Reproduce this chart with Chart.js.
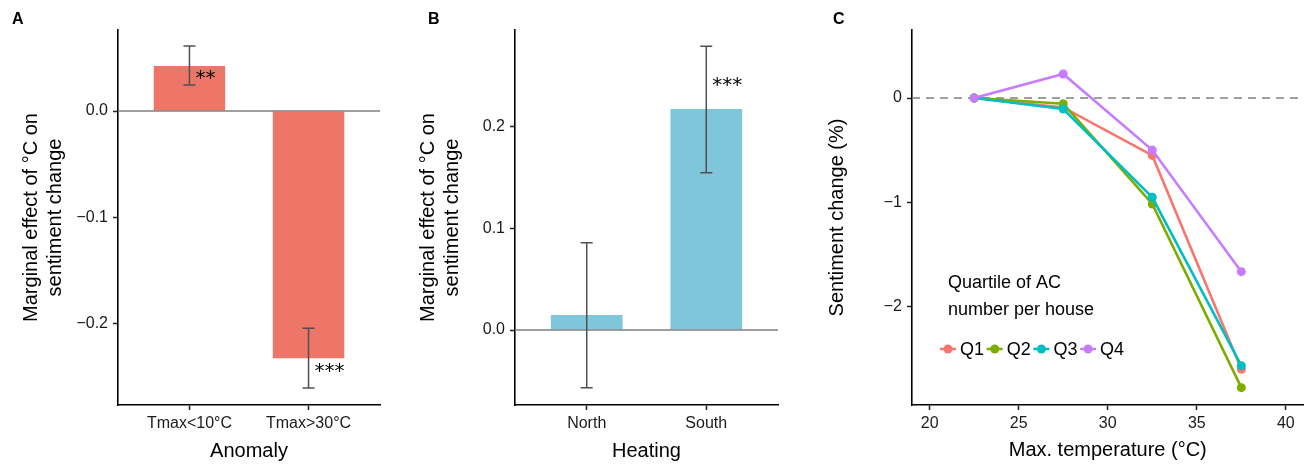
<!DOCTYPE html>
<html><head><meta charset="utf-8">
<script src="https://cdn.jsdelivr.net/npm/chart.js@4.4.1/dist/chart.umd.min.js"></script>
<style>
html,body{margin:0;padding:0;background:#fff;}
#wrap{position:relative;width:1308px;height:464px;overflow:hidden;background:#fff;}
canvas{position:absolute;top:0;}
.lab{position:absolute;font:bold 16px "Liberation Sans",Arial,sans-serif;line-height:16px;color:#000;}
</style></head><body>
<div id="wrap">
<canvas id="ca" width="400" height="464" style="left:0px"></canvas>
<canvas id="cb" width="400" height="464" style="left:400px"></canvas>
<canvas id="cc" width="508" height="464" style="left:800px"></canvas>
<div class="lab" style="left:12px;top:11px">A</div>
<div class="lab" style="left:428px;top:11px">B</div>
<div class="lab" style="left:833px;top:11px">C</div>
</div>
<script>
// ---------- DATA ----------
const catsA = ["Tmax<10°C", "Tmax>30°C"];
const valsA = [0.0425, -0.233];
const loA = [0.0245, -0.261];
const hiA = [0.0613, -0.2047];
const starsA = ["**", "***"];
const starYA = [0.036, -0.2406];
const ticksA = [-0.2, -0.1, 0.0];

const catsB = ["North", "South"];
const valsB = [0.0147, 0.2173];
const loB = [-0.0567, 0.1547];
const hiB = [0.0859, 0.279];
const starsB = ["", "***"];
const starYB = [null, 0.2458];
const ticksB = [0.0, 0.1, 0.2];

const tempsC = [22.5, 27.5, 32.5, 37.5];
const q1 = [0, -0.09, -0.55, -2.60];
const q2 = [0, -0.055, -1.016, -2.777];
const q3 = [0, -0.105, -0.952, -2.566];
const q4 = [0, 0.23, -0.499, -1.665];
const seriesNames = ["Q1", "Q2", "Q3", "Q4"];
const xTicksC = [20, 25, 30, 35, 40];
const yTicksC = [-2, -1, 0];

// ---------- STYLE ----------
const FONT = '"Liberation Sans", Arial, sans-serif';
const colorsC = ["#F8766D", "#7CAE00", "#00BFC4", "#C77CFF"];
const fmt = d => v => (Math.abs(v) < 1e-9 ? (0).toFixed(d) : v.toFixed(d)).replace('-', '\u2212');

const annot = {
  id: 'annot',
  beforeDatasetsDraw(chart, args, o) {
    if (!o.zero || !o.zero.behind) return;
    drawZero(chart, o.zero);
  },
  afterDatasetsDraw(chart, args, o) {
    const ctx = chart.ctx, xs = chart.scales.x, ys = chart.scales.y;
    if (o.zero && !o.zero.behind) drawZero(chart, o.zero);
    ctx.save();
    if (o.lo) {
      ctx.strokeStyle = '#505050'; ctx.lineWidth = 1.5;
      o.lo.forEach((lo, i) => {
        const px = xs.getPixelForValue(i + 1);
        const y1 = ys.getPixelForValue(lo), y2 = ys.getPixelForValue(o.hi[i]);
        ctx.beginPath();
        ctx.moveTo(px, y1); ctx.lineTo(px, y2);
        ctx.moveTo(px - 6, y1); ctx.lineTo(px + 6, y1);
        ctx.moveTo(px - 6, y2); ctx.lineTo(px + 6, y2);
        ctx.stroke();
      });
    }
    if (o.stars) {
      ctx.fillStyle = '#000'; ctx.font = '20px "DejaVu Sans", sans-serif';
      ctx.textAlign = 'left'; ctx.textBaseline = 'alphabetic';
      o.stars.forEach((s, i) => {
        if (!s) return;
        const px = xs.getPixelForValue(i + 1) + 6;
        const py = ys.getPixelForValue(o.starY[i]) + 11;
        ctx.fillText(s, px, py);
      });
    }
    ctx.restore();
  }
};
function drawZero(chart, z) {
  const ctx = chart.ctx, a = chart.chartArea, ys = chart.scales.y;
  const py = ys.getPixelForValue(0);
  ctx.save();
  ctx.strokeStyle = z.color; ctx.lineWidth = z.width;
  ctx.setLineDash(z.dash || []);
  ctx.beginPath(); ctx.moveTo(a.left, py); ctx.lineTo(a.right, py); ctx.stroke();
  ctx.restore();
}

const legendC = {
  id: 'legendC',
  afterDraw(chart, args, o) {
    const ctx = chart.ctx;
    ctx.save();
    ctx.font = '18px ' + FONT; ctx.fillStyle = '#000';
    ctx.textBaseline = 'middle'; ctx.textAlign = 'left';
    o.title.forEach((t, i) => ctx.fillText(t, o.x, o.y + i * o.lh));
    chart.data.datasets.forEach((ds, i) => {
      const cx = o.itemX + i * o.step;
      ctx.strokeStyle = ds.borderColor; ctx.lineWidth = 2.5;
      ctx.beginPath(); ctx.moveTo(cx, o.itemY); ctx.lineTo(cx + 16, o.itemY); ctx.stroke();
      ctx.fillStyle = ds.borderColor;
      ctx.beginPath(); ctx.arc(cx + 8, o.itemY, 4.5, 0, Math.PI * 2); ctx.fill();
      ctx.fillStyle = '#000';
      ctx.fillText(ds.label, cx + 20, o.itemY + 1);
    });
    ctx.restore();
  }
};

function axisCommon(extra) {
  return Object.assign({
    grid: { display: true, offset: false, drawOnChartArea: false, drawTicks: true, tickLength: 5, tickColor: '#222', tickWidth: 1.5 },
    border: { display: true, color: '#000', width: 1.6 },
  }, extra);
}

function barChart(id, cats, vals, lo, hi, stars, starY, ticks, ymin, ymax, color, xTitle, plotLeft, plotRight, canvasW, titlePad) {
  new Chart(document.getElementById(id), {
    type: 'bar',
    data: {
      datasets: [{
        data: cats.map((c, i) => ({ x: i + 1, y: vals[i] })),
        backgroundColor: color, borderWidth: 0,
        categoryPercentage: 1, barPercentage: 0.6
      }]
    },
    options: {
      responsive: false, animation: false, devicePixelRatio: 1,
      layout: { padding: { left: 0, right: canvasW - plotRight, top: 30, bottom: 0 } },
      plugins: {
        legend: { display: false }, tooltip: { enabled: false },
        annot: { zero: { color: '#7f7f7f', width: 1.6 }, lo, hi, stars, starY }
      },
      scales: {
        x: axisCommon({
          type: 'linear', min: 0.4, max: 2.6, offset: false,
          afterBuildTicks: s => { s.ticks = cats.map((c, i) => ({ value: i + 1 })); },
          afterFit: s => { s.height = 59; },
          ticks: { callback: (v, i) => cats[i], font: { size: 16, family: FONT }, color: '#1a1a1a', maxRotation: 0, autoSkip: false, padding: 4 },
          title: { display: true, text: xTitle, font: { size: 20, family: FONT }, color: '#000', padding: { top: 0, bottom: 1 } }
        }),
        y: axisCommon({
          type: 'linear', min: ymin, max: ymax,
          afterBuildTicks: s => { s.ticks = ticks.map(v => ({ value: v })); },
          afterFit: s => { s.width = plotLeft; },
          ticks: { callback: fmt(1), font: { size: 16, family: FONT }, color: '#1a1a1a', padding: 5 },
          title: { display: true, text: ['Marginal effect of °C on', 'sentiment change'], font: { size: 20, family: FONT, lineHeight: 1.2 }, color: '#000', padding: { top: titlePad, bottom: 0 } }
        })
      }
    },
    plugins: [annot]
  });
}

barChart('ca', catsA, valsA, loA, hiA, starsA, starYA, ticksA, -0.277, 0.0764, '#EE7668', 'Anomaly', 118, 380, 400, 19);
barChart('cb', catsB, valsB, loB, hiB, starsB, starYB, ticksB, -0.0737, 0.295, '#80C6DA', 'Heating', 115, 378, 400, 16);

const seriesC = [q1, q2, q3, q4];
new Chart(document.getElementById('cc'), {
  type: 'line',
  data: {
    datasets: seriesC.map((s, i) => ({
      label: seriesNames[i],
      data: tempsC.map((t, j) => ({ x: t, y: s[j] })),
      borderColor: colorsC[i], backgroundColor: colorsC[i],
      borderWidth: 2.6, pointRadius: 4.5, pointBorderWidth: 0, tension: 0,
      order: 3 - i
    }))
  },
  options: {
    responsive: false, animation: false, devicePixelRatio: 1,
    layout: { padding: { left: 0, right: 1, top: 30, bottom: 0 } },
    plugins: {
      legend: { display: false }, tooltip: { enabled: false },
      annot: { zero: { color: '#808080', width: 1.5, dash: [8, 6], behind: true } },
      legendC: { title: ['Quartile of AC', 'number per house'], x: 148, y: 283, lh: 27, itemX: 140, itemY: 349, step: 46.7 }
    },
    scales: {
      x: axisCommon({
        type: 'linear', min: 19.01, max: 40.99,
        afterBuildTicks: s => { s.ticks = xTicksC.map(v => ({ value: v })); },
        afterFit: s => { s.height = 59; },
        ticks: { callback: v => String(v), font: { size: 16, family: FONT }, color: '#1a1a1a', maxRotation: 0, autoSkip: false, padding: 4 },
        title: { display: true, text: 'Max. temperature (°C)', font: { size: 20, family: FONT }, color: '#000', padding: { top: 0, bottom: 2 } }
      }),
      y: axisCommon({
        type: 'linear', min: -2.943, max: 0.652,
        afterBuildTicks: s => { s.ticks = yTicksC.map(v => ({ value: v })); },
        afterFit: s => { s.width = 112; },
        ticks: { callback: fmt(0), font: { size: 16, family: FONT }, color: '#1a1a1a', padding: 5 },
        title: { display: true, text: 'Sentiment change (%)', font: { size: 20, family: FONT, lineHeight: 1.2 }, color: '#000', padding: { top: 25, bottom: 0 } }
      })
    }
  },
  plugins: [annot, legendC]
});
</script>
</body></html>
